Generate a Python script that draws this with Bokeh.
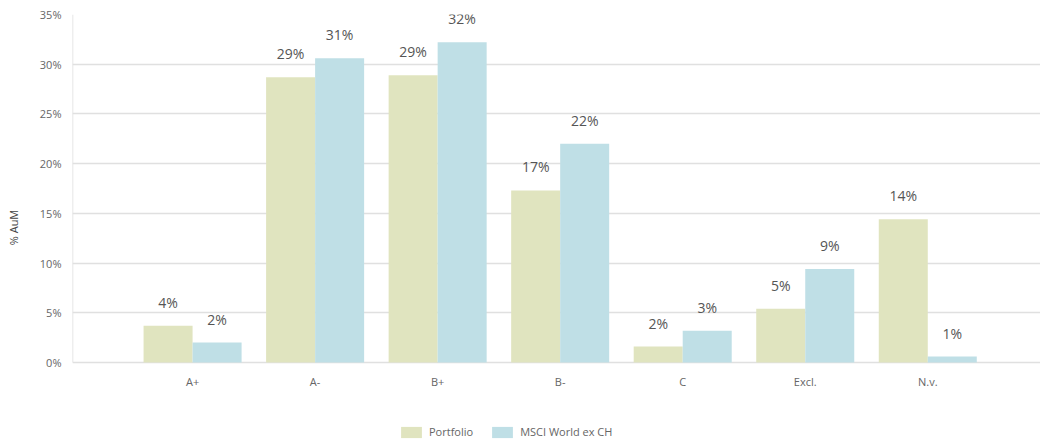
from bokeh.plotting import figure
from bokeh.models import ColumnDataSource, FixedTicker, Legend, LegendItem, Range1d
from bokeh.core.properties import value
from bokeh.embed import file_html
from bokeh.resources import INLINE

categories = ["A+", "A-", "B+", "B-", "C", "Excl.", "N.v."]
portfolio = [3.7, 28.7, 28.9, 17.3, 1.6, 5.4, 14.4]
msci = [2.0, 30.6, 32.2, 22.0, 3.2, 9.4, 0.6]
y_ticks = [0, 5, 10, 15, 20, 25, 30, 35]
series_names = ["Portfolio", "MSCI World ex CH"]

FONT = "Open Sans"
C_PORT = "#e0e4bf"
C_MSCI = "#bfdfe6"
GREY = "#666666"

X_START, X_END = -0.98, 6.92
Y_MIN, Y_MAX = -7.845, 35

idx = list(range(len(categories)))
bw = 0.4
src = ColumnDataSource(dict(
    x=idx,
    zero=[0] * len(idx),
    cat=categories,
    xp=[i - bw / 2 for i in idx],
    xm=[i + bw / 2 for i in idx],
    port=portfolio,
    msci=msci,
    port_lbl=[f"{round(v)}%" for v in portfolio],
    msci_lbl=[f"{round(v)}%" for v in msci],
))

p = figure(frame_width=968, frame_height=426, output_backend="svg", toolbar_location=None,
           x_range=Range1d(X_START, X_END), y_range=Range1d(Y_MIN, Y_MAX),
           min_border_left=72, min_border_right=0, min_border_top=14, min_border_bottom=0)
p.outline_line_color = None
p.background_fill_color = "white"
p.border_fill_color = "white"
p.xaxis.visible = False

r1 = p.vbar(x="xp", top="port", width=bw, source=src, fill_color=C_PORT, line_color=None)
r2 = p.vbar(x="xm", top="msci", width=bw, source=src, fill_color=C_MSCI, line_color=None)

# left axis line only over the value range
p.segment(x0=[X_START], y0=[0], x1=[X_START], y1=[Y_MAX], line_color="#dddddd", line_width=1.5)

p.text(x="xp", y="port", text="port_lbl", source=src, text_align="center",
       text_baseline="bottom", y_offset=-14, text_font=value(FONT),
       text_font_size="14px", text_color="#555555")
p.text(x="xm", y="msci", text="msci_lbl", source=src, text_align="center",
       text_baseline="bottom", y_offset=-14, text_font=value(FONT),
       text_font_size="14px", text_color="#555555")

# category labels
p.text(x="x", y="zero", text="cat", source=src, text_align="center",
       text_baseline="middle", y_offset=19, text_font=value(FONT),
       text_font_size="11px", text_color=GREY)

p.yaxis.ticker = FixedTicker(ticks=y_ticks)
p.yaxis.major_label_overrides = {t: f"{t}%" for t in y_ticks}
p.yaxis.major_tick_line_color = None
p.yaxis.minor_tick_line_color = None
p.yaxis.axis_line_color = None
p.yaxis.major_label_text_font = FONT
p.yaxis.major_label_text_font_size = "11px"
p.yaxis.major_label_text_color = GREY
p.yaxis.major_label_standoff = 5
p.yaxis.axis_label = "% AuM"
p.yaxis.axis_label_text_font = FONT
p.yaxis.axis_label_text_font_size = "11px"
p.yaxis.axis_label_text_font_style = "normal"
p.yaxis.axis_label_text_color = "#444444"
p.yaxis.axis_label_standoff = 16

p.xgrid.grid_line_color = None
p.ygrid.grid_line_color = "#e0e0e0"
p.ygrid.grid_line_width = 1.5

legend = Legend(items=[LegendItem(label=series_names[0], renderers=[r1]),
                       LegendItem(label=series_names[1], renderers=[r2])],
                orientation="horizontal", location=(326, 1))
legend.label_text_font = FONT
legend.label_text_font_size = "11px"
legend.label_text_color = GREY
legend.glyph_width = 26
legend.glyph_height = 14
legend.spacing = 16
legend.border_line_color = None
legend.background_fill_alpha = 0
legend.margin = 0
legend.padding = 2
p.add_layout(legend, "center")

open("out.html", "w").write(file_html(p, INLINE))
